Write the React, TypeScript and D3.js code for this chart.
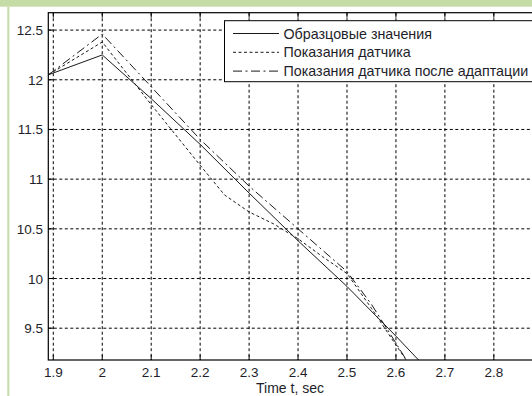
import React from "react";
import * as d3 from "d3";

const xTicks = [1.9, 2.0, 2.1, 2.2, 2.3, 2.4, 2.5, 2.6, 2.7, 2.8];
const xTickLabels = ["1.9", "2", "2.1", "2.2", "2.3", "2.4", "2.5", "2.6", "2.7", "2.8"];
const yTicks = [9.5, 10, 10.5, 11, 11.5, 12, 12.5];
const yTickLabels = ["9.5", "10", "10.5", "11", "11.5", "12", "12.5"];

const refT = [1.89, 2.0, 2.1, 2.2, 2.3, 2.4, 2.5, 2.6, 2.65];
const refV = [12.05, 12.25, 11.81, 11.35, 10.86, 10.38, 9.92, 9.42, 9.16];

const sensorT = [1.89, 2.0, 2.1, 2.2, 2.25, 2.3, 2.35, 2.4, 2.45, 2.5, 2.55, 2.6, 2.625];
const sensorV = [12.05, 12.38, 11.75, 11.14, 10.84, 10.67, 10.55, 10.4, 10.22, 10.05, 9.7, 9.33, 9.15];

const adaptT = [1.89, 2.0, 2.1, 2.2, 2.3, 2.4, 2.5, 2.55, 2.6, 2.625];
const adaptV = [12.05, 12.46, 11.93, 11.4, 10.93, 10.5, 10.07, 9.74, 9.35, 9.15];

const legendLabels = [
  "Образцовые значения",
  "Показания датчика",
  "Показания датчика после адаптации",
];
const legendDash = ["", "3,2.5", "9,3.5,2,3.5"];

export default function App() {
  const W = 532, H = 396;
  const L = 48.3, R = 533.5, T = 12.7, B = 360;
  const x = d3.scaleLinear().domain([1.8898, 2.881]).range([L, R]);
  const y = d3.scaleLinear().domain([9.18, 12.675]).range([B, T]);
  const line = d3.line<[number, number]>().x((d) => x(d[0])).y((d) => y(d[1]));
  const series = [
    { t: refT, v: refV, dash: legendDash[0] },
    { t: sensorT, v: sensorV, dash: legendDash[1] },
    { t: adaptT, v: adaptV, dash: legendDash[2] },
  ];
  const font = "'Liberation Sans', Arial, sans-serif";
  const legX = 224.5, legY = 20.7, legH = 61;
  return (
    <svg width={W} height={H} style={{ position: "absolute", left: 0, top: 0, background: "#fff" }}>
      <rect x={0} y={0} width={W} height={H} fill="#fff" />
      <rect x={0} y={0} width={W} height={6.7} fill="#c6dca7" />
      <rect x={7.3} y={6.7} width={2} height={H} fill="#c6dca7" />
      <defs>
        <clipPath id="plot">
          <rect x={L} y={T} width={R - L} height={B - T} />
        </clipPath>
      </defs>
      {/* grid */}
      {xTicks.map((t, i) => (
        <line key={"gx" + i} x1={x(t)} x2={x(t)} y1={T} y2={B} stroke="#000" strokeWidth={1} strokeDasharray="3,2.5" />
      ))}
      {yTicks.map((v, i) => (
        <line key={"gy" + i} x1={L} x2={R} y1={y(v)} y2={y(v)} stroke="#000" strokeWidth={1} strokeDasharray="3,2.5" />
      ))}
      {/* ticks */}
      {xTicks.map((t, i) => (
        <g key={"tx" + i}>
          <line x1={x(t)} x2={x(t)} y1={B} y2={B - 5} stroke="#000" />
          <line x1={x(t)} x2={x(t)} y1={T} y2={T + 5} stroke="#000" />
          <text x={x(t)} y={376.5} textAnchor="middle" fontFamily={font} fontSize={13.5} fill="#1e1e2a">
            {xTickLabels[i]}
          </text>
        </g>
      ))}
      {yTicks.map((v, i) => (
        <g key={"ty" + i}>
          <line x1={L} x2={L + 5} y1={y(v)} y2={y(v)} stroke="#000" />
          <text x={43} y={y(v) + 5} textAnchor="end" fontFamily={font} fontSize={13.5} fill="#1e1e2a">
            {yTickLabels[i]}
          </text>
        </g>
      ))}
      {/* series */}
      <g clipPath="url(#plot)">
        {series.map((s, i) => (
          <path
            key={"s" + i}
            d={line(s.t.map((t, j) => [t, s.v[j]] as [number, number])) || ""}
            fill="none"
            stroke="#1a1a1a"
            strokeWidth={1}
            strokeDasharray={s.dash || undefined}
          />
        ))}
      </g>
      {/* axes box */}
      <rect x={L} y={T} width={R - L} height={B - T} fill="none" stroke="#000" strokeWidth={1.2} />
      {/* legend */}
      <rect x={legX} y={legY} width={W + 10 - legX} height={legH} fill="#fff" stroke="#000" strokeWidth={1} />
      {legendLabels.map((lab, i) => {
        const ly = 33.5 + i * 18.8;
        return (
          <g key={"l" + i}>
            <line x1={233} x2={279} y1={ly} y2={ly} stroke="#1a1a1a" strokeDasharray={legendDash[i] || undefined} />
            <text x={283.5} y={ly + 5} fontFamily={font} fontSize={14.3} fill="#1e1e2a">
              {lab}
            </text>
          </g>
        );
      })}
      <text x={290} y={393} textAnchor="middle" fontFamily={font} fontSize={14} fill="#1e1e2a">
        Time t, sec
      </text>
    </svg>
  );
}
